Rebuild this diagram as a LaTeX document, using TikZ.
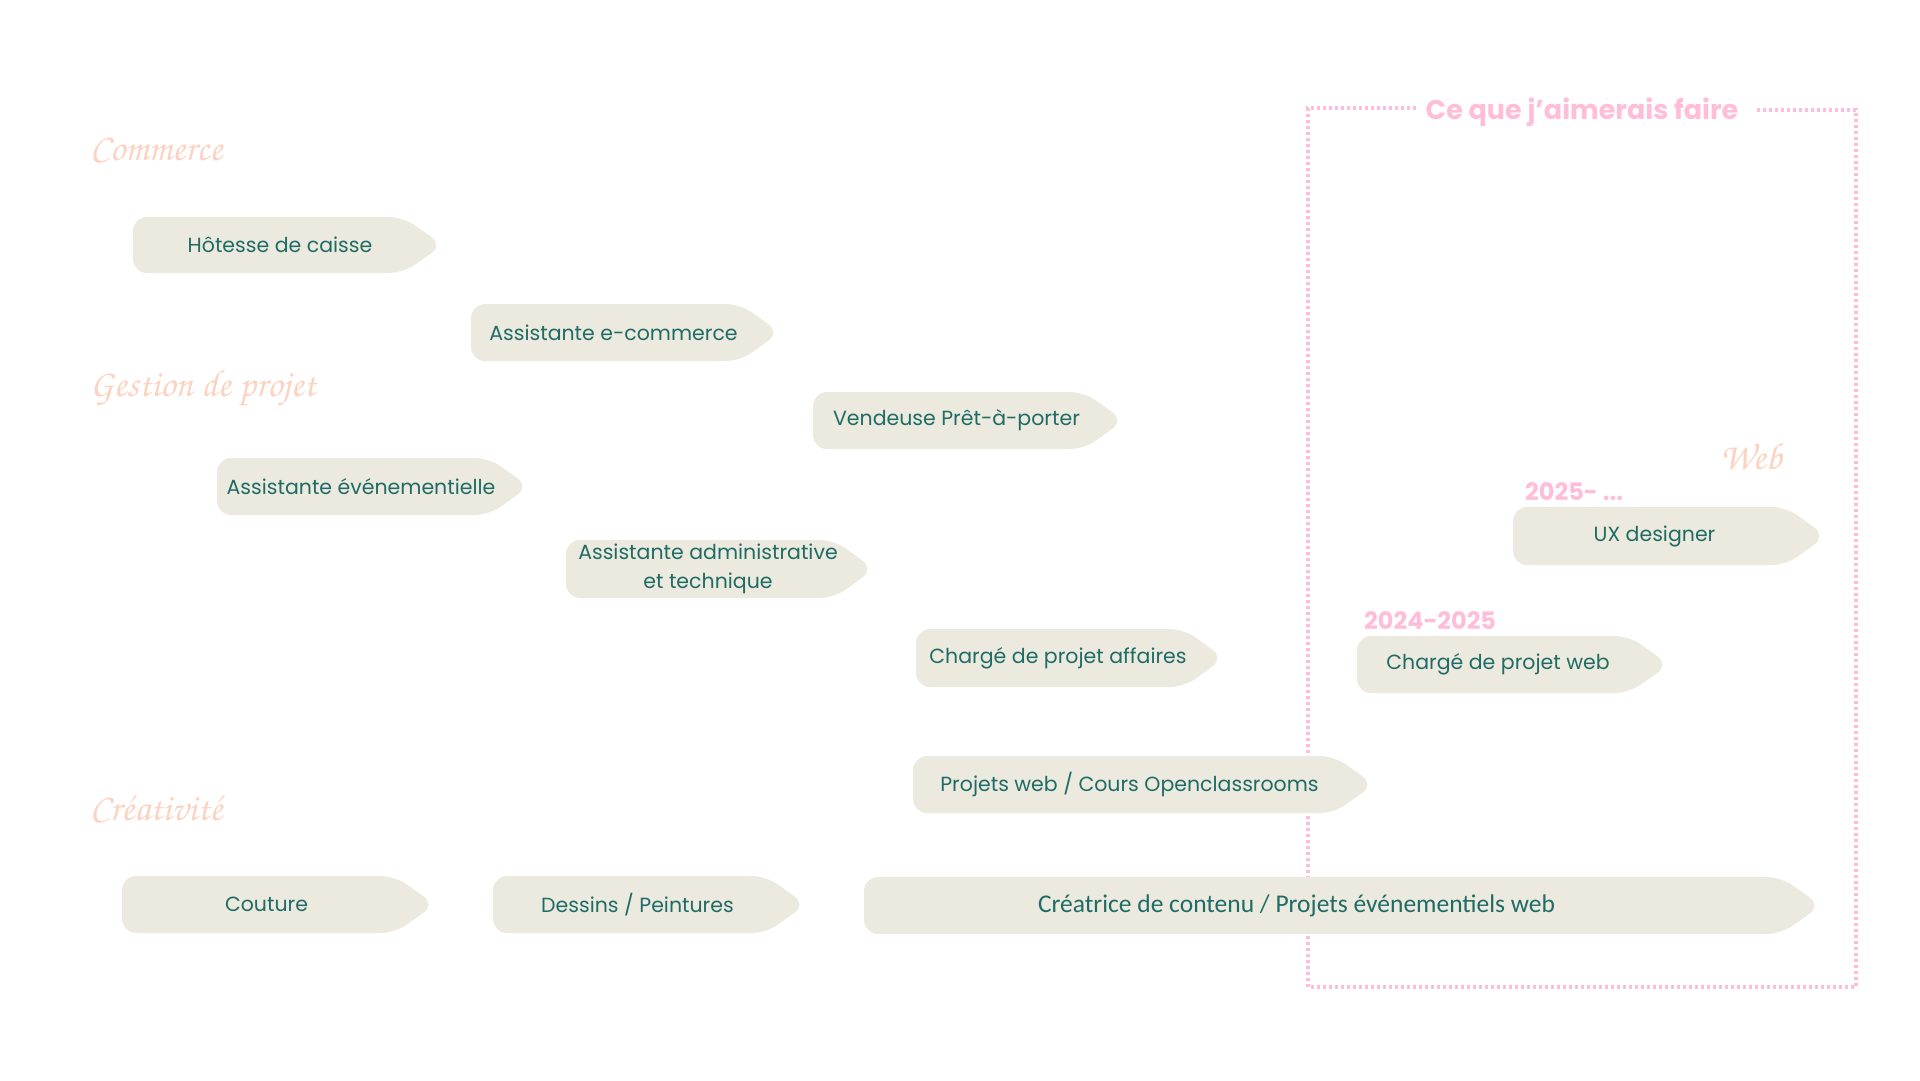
\documentclass[tikz,border=0pt]{standalone}
\usepackage[T1]{fontenc}
\usepackage{fontspec}
\setmainfont{Poppins}
\newfontfamily\narrowfont{Carlito}
\usepackage{tikz}
\usetikzlibrary{calc,positioning}

\definecolor{tagbg}{HTML}{ECEADE}
\definecolor{tealtext}{HTML}{1F6B66}
\definecolor{peach}{HTML}{FCD2C0}
\definecolor{rosepink}{HTML}{FFBDDA}

% script face for the section titles
\newcommand{\scriptface}{\fontencoding{T1}\fontfamily{pzc}\fontseries{mb}\fontshape{it}\selectfont}

% tag shape: [text shift], name, x1, y1, x2, y2, text
\newcommand{\tagbox}[7][-9]{%
  \fill[tagbg,rounded corners=14pt] (#3,{(#4+#6)/2}) -- (#3,#4) -- ({#5-34},#4)
    -- ({#5+6},{(#4+#6)/2}) -- ({#5-34},#6) -- (#3,#6) -- cycle;
  \node[tagtext] (#2) at ({(#3+#5)/2+#1},{(#4+#6)/2}) {#7};
}

\begin{document}
\begin{tikzpicture}[
  x=1pt, y=-1pt,
  tagtext/.style={text=tealtext, font=\fontsize{20.5}{29}\selectfont, align=center, inner sep=0pt},
  section/.style={text=peach, font=\scriptface\fontsize{38}{40}\selectfont, anchor=base west, inner sep=0pt},
  yearlabel/.style={text=rosepink, font=\bfseries\fontsize{24}{28}\selectfont, anchor=west, inner sep=0pt},
  wishbox/.style={draw=rosepink, line width=3.5pt, dash pattern=on 3pt off 3pt}
]
\useasboundingbox (0,0) rectangle (1920,1080);

% --- section titles
\node[section] (commerce) at (90,160) {Commerce};
\node[section] (gestion)  at (90,396) {Gestion de projet};
\node[section] (creativ)  at (90,820) {Créativité};

% --- wish frame
\draw[wishbox] (1416,108) -- (1308,108) -- (1308,987) -- (1856,987) -- (1856,110) -- (1757,110);
\node[text=rosepink, font=\bfseries\fontsize{27}{32}\selectfont, inner sep=0pt] (wish) at (1582,112) {Ce que j'aimerais faire};
\node[section] (web) at (1720,469) {Web};

% --- commerce
\tagbox[-5]{hotesse}{133}{217}{437}{273}{Hôtesse de caisse}
\tagbox{ecom}{471}{304}{774}{361}{Assistante e-commerce}
\tagbox{vendeuse}{813}{392}{1118}{449}{Vendeuse Prêt-à-porter}

% --- gestion de projet
\tagbox{evenem}{217}{458}{523}{515}{Assistante événementielle}
\tagbox{admin}{566}{540}{868}{598}{Assistante administrative\\et technique}
\tagbox{affaires}{916}{629}{1218}{687}{Chargé de projet affaires}
\tagbox[-11]{projweb}{913}{756}{1368}{813}{Projets web / Cours Openclassrooms}

% --- web
\node[yearlabel] (y2425) at (1364,621) {2024-2025};
\tagbox[-12]{chargeweb}{1357}{636}{1663}{693}{Chargé de projet web}
\node[yearlabel] (y2025) at (1525,492) {2025- ...};
\tagbox[-12]{ux}{1513}{507}{1820}{565}{UX designer}

% --- creativite
\tagbox{couture}{122}{876}{429}{933}{Couture}
\tagbox{dessins}{493}{876}{800}{933}{Dessins / Peintures}
\tagbox[-43]{contenu}{864}{877}{1815}{934}{\narrowfont\fontsize{25.5}{30}\selectfont Créatrice de contenu / Projets événementiels web}

\end{tikzpicture}
\end{document}
